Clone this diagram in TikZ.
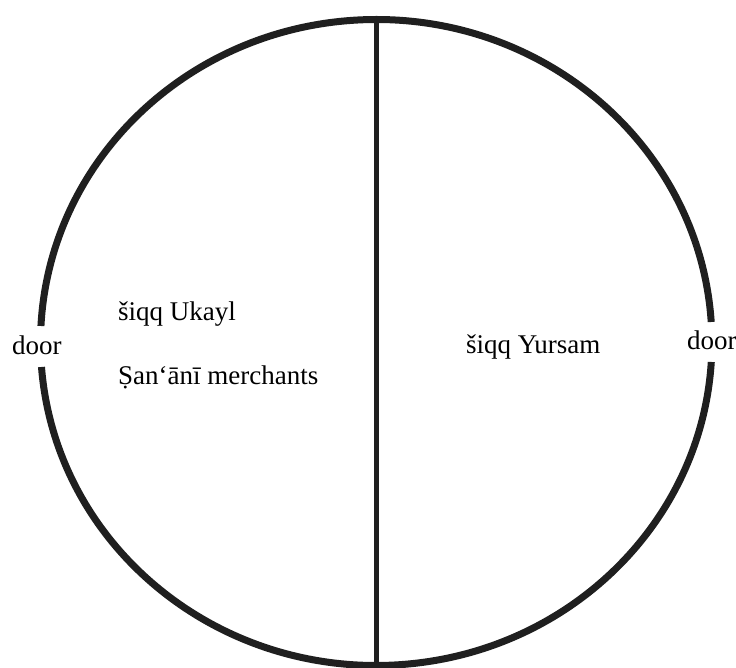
\documentclass[tikz,border=0pt]{standalone}
\usepackage{fontspec}
\setmainfont{Liberation Serif}
\usetikzlibrary{positioning}

\begin{document}
\begin{tikzpicture}[x=1pt,y=1pt,
    wall/.style={line width=7pt,color=black!88},
    split/.style={line width=5pt,color=black!88},
    lbl/.style={anchor=base west,inner sep=0pt,font=\fontsize{27}{31}\selectfont}]
  \useasboundingbox (0,0) rectangle (736,668);
  \coordinate (O) at (376.2,325.5);
  \coordinate (top) at (376.2,648.5);
  \coordinate (bottom) at (376.2,2.5);
  % outer wall, broken at the two doors
  \draw[wall] (O) ++(3.64:335.7 and 323) arc[start angle=3.64,end angle=177.07,x radius=335.7,y radius=323];
  \draw[wall] (O) ++(184.35:335.7 and 323) arc[start angle=184.35,end angle=356.54,x radius=335.7,y radius=323];
  \draw[split] (top) -- (bottom);
  \node[lbl] (doorW) at (12,313) {door};
  \node[lbl] (doorE) at (687,318) {door};
  \node[lbl] (ukayl) at (118,347) {šiqq Ukayl};
  \node[lbl] (sanani) at (118,283) {Ṣan‘ānī merchants};
  \node[lbl] (yursam) at (466,314) {šiqq Yursam};
\end{tikzpicture}
\end{document}
